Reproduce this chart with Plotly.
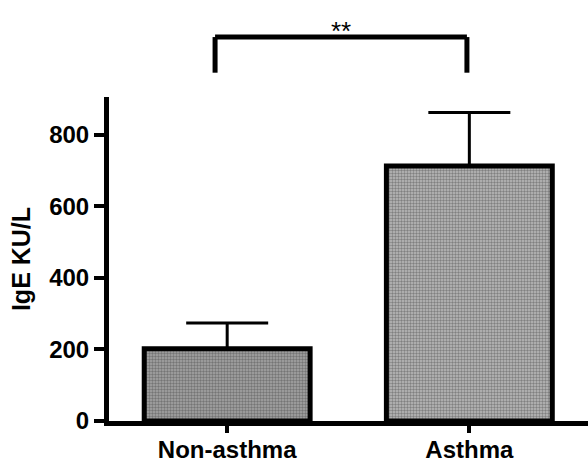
import plotly.graph_objects as go

categories = ["Non-asthma", "Asthma"]
means = [202, 712]
errors_up = [72, 150]
bar_fg = ["#484848", "#5a5a5a"]
bar_bg = ["#a6a6a6", "#bcbcbc"]
y_ticks = [0, 200, 400, 600, 800]
sig_label = "**"

fig = go.Figure()
fig.add_trace(go.Bar(
    x=categories,
    y=means,
    width=0.685,
    marker=dict(
        color=bar_bg,
        line=dict(color="black", width=5),
        pattern=dict(shape=".", fgcolor=bar_fg, bgcolor=bar_bg, size=3, solidity=0.5),
    ),
    error_y=dict(type="data", symmetric=False, array=errors_up,
                 arrayminus=[0, 0], color="black", thickness=3, width=41),
    showlegend=False,
))

font_family = "Liberation Sans, Arial, sans-serif"

fig.update_layout(
    width=588, height=466,
    margin=dict(l=109, r=0, t=97, b=45),
    paper_bgcolor="white", plot_bgcolor="white",
    font=dict(family=font_family, color="black"),
    xaxis=dict(
        range=[-0.488, 1.49],
        showline=True, linecolor="black", linewidth=5,
        ticks="outside", ticklen=7, tickwidth=4, tickcolor="black",
        ticklabelstandoff=-4,
        tickfont=dict(size=24, family=font_family, weight="bold"),
        showgrid=False, zeroline=False,
    ),
    yaxis=dict(
        range=[0, 905],
        tickvals=y_ticks,
        showline=True, linecolor="black", linewidth=5,
        ticks="outside", ticklen=10, tickwidth=4, tickcolor="black",
        tickfont=dict(size=24, family=font_family, weight="bold"),
        title=dict(text="IgE KU/L", font=dict(size=25, family=font_family, weight="bold"), standoff=13),
        showgrid=False, zeroline=False,
    ),
)

# significance bracket
bx0, bx1 = -0.05, 0.99
fig.add_shape(type="line", xref="x", yref="paper", x0=bx0, x1=bx1, y0=1.185, y1=1.185,
              line=dict(color="black", width=5))
fig.add_shape(type="line", xref="x", yref="paper", x0=bx0, x1=bx0, y0=1.185, y1=1.075,
              line=dict(color="black", width=5))
fig.add_shape(type="line", xref="x", yref="paper", x0=bx1, x1=bx1, y0=1.185, y1=1.075,
              line=dict(color="black", width=5))
fig.add_annotation(x=(bx0 + bx1) / 2, y=1.255, xref="x", yref="paper", text=sig_label,
                   showarrow=False, font=dict(size=26, family=font_family, color="black"))

fig.write_html("out.html")
